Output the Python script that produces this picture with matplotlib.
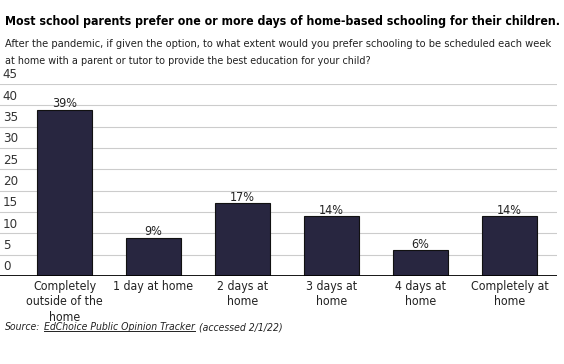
import matplotlib
matplotlib.use('Agg')
import matplotlib.pyplot as plt

categories = ['Completely\noutside of the\nhome', '1 day at home', '2 days at\nhome',
              '3 days at\nhome', '4 days at\nhome', 'Completely at\nhome']
values = [39, 9, 17, 14, 6, 14]
yticks = [0, 5, 10, 15, 20, 25, 30, 35, 40, 45]

plt.rcParams['font.family'] = ['DejaVu Sans']
plt.rcParams['font.stretch'] = 'condensed'

W, H = 564, 364
fig = plt.figure(figsize=(W / 100, H / 100), dpi=100)
ax = fig.add_axes([0, 1 - 276 / H, 557 / W, 192 / H])
r = fig.canvas.get_renderer()


def fit(txt, width_px):
    # scale font so the text spans the given pixel width
    w = txt.get_window_extent(r).width
    txt.set_fontsize(txt.get_fontsize() * width_px / w)
    return txt


x = list(range(len(values)))
ax.bar(x, values, width=0.62, color='#282640', edgecolor='#111111', linewidth=0.8, zorder=3)
for xi, v in zip(x, values):
    ax.text(xi, v + 0.6, f'{v}%', ha='center', va='baseline', fontsize=9, color='#222222')

ax.set_xlim(-0.725, 5.533)
ax.set_ylim(0, 45)
ax.set_yticks(yticks)
ax.set_yticklabels([])
ax.tick_params(left=False, bottom=False, labelbottom=False)
for t in yticks:
    ax.axhline(t, color='#cccccc', linewidth=0.8, zorder=1)
    ax.text(0.005, t + 0.6, str(t), transform=ax.get_yaxis_transform(), ha='left', va='bottom',
            fontsize=9.5, color='#333333')
ax.axhline(0, color='black', linewidth=2, zorder=4)
for s in ax.spines.values():
    s.set_visible(False)

for xi, c in zip(x, categories):
    ax.text(xi, -1.0, c, ha='center', va='top', fontsize=8.8, color='#222222', linespacing=1.22)

fit(fig.text(5 / W, 1 - 22 / H, 'Most school parents prefer one or more days of home-based schooling for their children.',
             fontsize=10, fontweight='bold', ha='left', va='center'), 553)
fit(fig.text(5 / W, 1 - 44 / H, 'After the pandemic, if given the option, to what extent would you prefer schooling to be scheduled each week',
             fontsize=9, ha='left', va='center', color='#222222'), 551)
fit(fig.text(5 / W, 1 - 61 / H, 'at home with a parent or tutor to provide the best education for your child?',
             fontsize=9, ha='left', va='center', color='#222222'), 366)

# source line with underlined link text
y_src = 1 - 327 / H
fs = 7.5
t1 = fig.text(5 / W, y_src, 'Source:', fontsize=fs, style='italic', ha='left', va='center', color='#222222')
bb = t1.get_window_extent(r)
t2 = fig.text((bb.x1 + 4) / W, y_src, 'EdChoice Public Opinion Tracker', fontsize=fs, style='italic',
              ha='left', va='center', color='#222222')
bb2 = t2.get_window_extent(r)
fig.add_artist(plt.Line2D([bb2.x0 / W, bb2.x1 / W], [(bb2.y0 + 1) / H] * 2, color='#222222', linewidth=0.7))
fig.text((bb2.x1 + 4) / W, y_src, '(accessed 2/1/22)', fontsize=fs, style='italic',
         ha='left', va='center', color='#222222')

fig.savefig('out.png', dpi=100)
